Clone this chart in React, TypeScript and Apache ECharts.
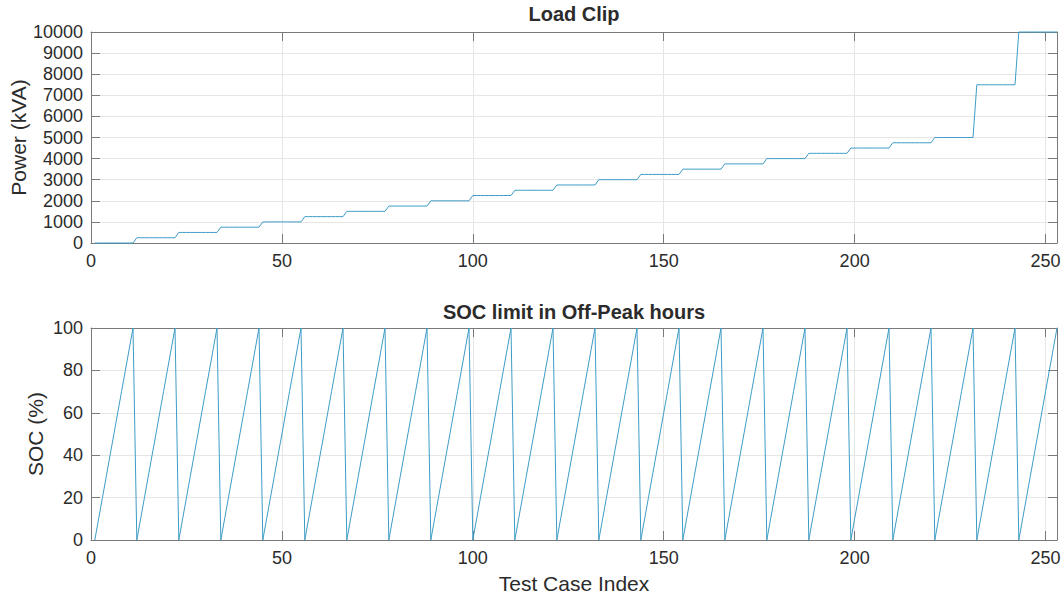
import React, { useEffect, useRef } from "react";
import * as echarts from "echarts";

const loadLevels = [0, 250, 500, 750, 1000, 1250, 1500, 1750, 2000, 2250, 2500, 2750, 3000, 3250, 3500, 3750, 4000, 4250, 4500, 4750, 5000, 7500, 10000];
const socLevels = [0, 10, 20, 30, 40, 50, 60, 70, 80, 90, 100];
const xTicks = [0, 50, 100, 150, 200, 250];
const loadTicks = [0, 1000, 2000, 3000, 4000, 5000, 6000, 7000, 8000, 9000, 10000];
const socTicks = [0, 20, 40, 60, 80, 100];

const FONT = "Liberation Sans, Arial, Helvetica, sans-serif";
const TXT = "#2b2b2b";
const AXIS = "#7a7a7a";
const GRIDC = "#e6e6e6";
const LINE = "#3d9cc6";

export default function App() {
  const ref = useRef<HTMLDivElement>(null);
  useEffect(() => {
    if (!ref.current) return;
    const chart = echarts.init(ref.current, null, { renderer: "svg" });
    const loadData: number[][] = [];
    const socData: number[][] = [];
    loadLevels.forEach((lv, i) => {
      socLevels.forEach((s, j) => {
        const idx = i * socLevels.length + j + 1;
        loadData.push([idx, lv]);
        socData.push([idx, s]);
      });
    });
    const xMax = loadData.length;
    const tickInt = (t: number[]) => t[1] - t[0];
    const fmt = (v: number) => String(v);
    const baseX = (grid: number, showLabel: boolean, pos: string, name?: string) => ({
      type: "value",
      gridIndex: grid,
      position: pos,
      min: 0,
      max: xMax,
      interval: tickInt(xTicks),
      name: name || "",
      nameLocation: "middle",
      nameGap: 33,
      nameMoveOverlap: false,
      nameTextStyle: { fontFamily: FONT, fontSize: 21, color: TXT },
      axisLine: { show: true, onZero: false, lineStyle: { color: AXIS, width: 1 } },
      axisTick: { show: true, inside: true, length: 9, lineStyle: { color: AXIS } },
      axisLabel: { show: showLabel, showMaxLabel: false, margin: 9, formatter: fmt, fontFamily: FONT, fontSize: 18, color: TXT },
      splitLine: { show: showLabel, lineStyle: { color: GRIDC, width: 1 } },
    });
    const baseY = (grid: number, ticks: number[], showLabel: boolean, pos: string, name?: string, gap?: number) => ({
      type: "value",
      gridIndex: grid,
      position: pos,
      min: ticks[0],
      max: ticks[ticks.length - 1],
      interval: tickInt(ticks),
      name: name || "",
      nameLocation: "middle",
      nameGap: gap || 0,
      nameMoveOverlap: false,
      nameTextStyle: { fontFamily: FONT, fontSize: 21, color: TXT },
      axisLine: { show: true, onZero: false, lineStyle: { color: AXIS, width: 1 } },
      axisTick: { show: true, inside: true, length: 9, lineStyle: { color: AXIS } },
      axisLabel: { show: showLabel, margin: 8, formatter: fmt, fontFamily: FONT, fontSize: 18, color: TXT },
      splitLine: { show: showLabel, lineStyle: { color: GRIDC, width: 1 } },
    });
    chart.setOption({
      animation: false,
      backgroundColor: "#ffffff",
      grid: [
        { left: 91, right: 6, top: 32, height: 211, outerBoundsMode: "none", containLabel: false },
        { left: 91, right: 6, top: 328, height: 212, outerBoundsMode: "none", containLabel: false },
      ],
      xAxis: [
        baseX(0, true, "bottom"),
        baseX(1, true, "bottom", "Test Case Index"),
        baseX(0, false, "top"),
        baseX(1, false, "top"),
      ],
      yAxis: [
        baseY(0, loadTicks, true, "left", "Power (kVA)", 62),
        baseY(1, socTicks, true, "left", "SOC (%)", 45),
        baseY(0, loadTicks, false, "right"),
        baseY(1, socTicks, false, "right"),
      ],
      graphic: [
        {
          type: "text",
          x: 574,
          y: 14,
          style: { text: "Load Clip", textAlign: "center", textVerticalAlign: "middle", font: `bold 20px ${FONT}`, fill: TXT },
        },
        {
          type: "text",
          x: 574,
          y: 312,
          style: { text: "SOC limit in Off-Peak hours", textAlign: "center", textVerticalAlign: "middle", font: `bold 20px ${FONT}`, fill: TXT },
        },
      ],
      series: [
        {
          type: "line",
          xAxisIndex: 0,
          yAxisIndex: 0,
          data: loadData,
          showSymbol: false,
          clip: false,
          lineStyle: { color: LINE, width: 1 },
        },
        {
          type: "line",
          xAxisIndex: 1,
          yAxisIndex: 1,
          data: socData,
          showSymbol: false,
          clip: false,
          lineStyle: { color: LINE, width: 1 },
        },
      ],
    });
    return () => chart.dispose();
  }, []);
  return (
    <div
      ref={ref}
      style={{ position: "fixed", left: 0, top: 0, width: 1063, height: 601, background: "#fff" }}
    />
  );
}
